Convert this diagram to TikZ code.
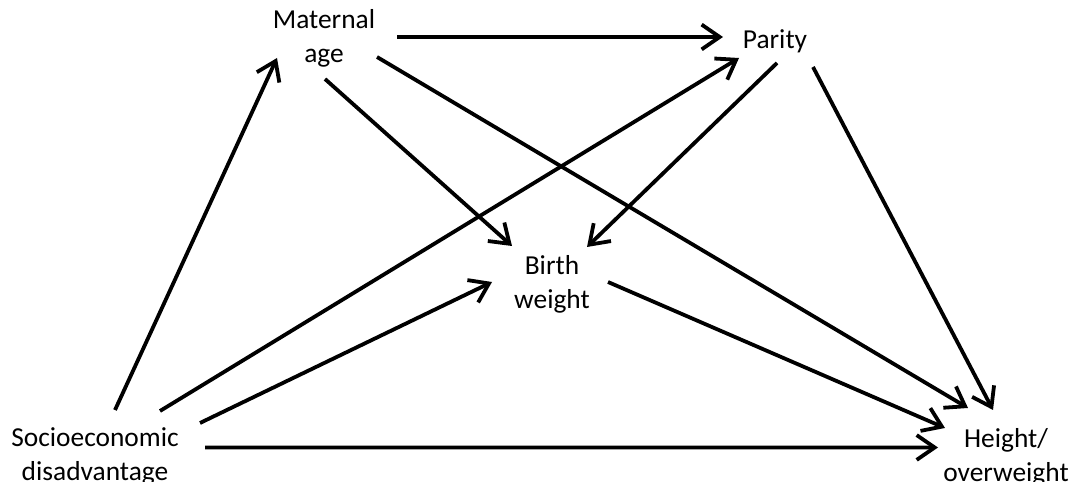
\documentclass[tikz,border=0pt]{standalone}
\usepackage{fontspec}
\setmainfont{Carlito}
\usetikzlibrary{arrows.meta}

\tikzset{
  lbl/.style={align=center, inner sep=0pt, font=\fontsize{19.5}{24}\selectfont},
  arr/.style={line width=2.7pt, -{Straight Barb[length=4.5mm, width=6.2mm]}}
}

\begin{document}
\begin{tikzpicture}
  \useasboundingbox (0,0) rectangle (27.2,12.05);
  % variables
  \node[lbl] (se)  at (2.375,0.6375)  {Socioeconomic\\disadvantage};
  \node[lbl] (mat) at (8.1,11.0875)   {Maternal\\age};
  \node[lbl] (par) at (19.375,11.025) {Parity};
  \node[lbl] (bw)  at (13.8,4.9375)   {Birth\\weight};
  \node[lbl] (ht)  at (25.15,0.625)   {Height/\\overweight};
  % paths
  \draw[arr] ([shift={(0.5,1.1625)}]se.center)    -- ([shift={(-1.175,-0.4875)}]mat.center);
  \draw[arr] ([shift={(1.625,1.1375)}]se.center)  -- ([shift={(-0.9,-0.425)}]par.center);
  \draw[arr] ([shift={(2.625,0.8375)}]se.center)  -- ([shift={(-1.5,0.0625)}]bw.center);
  \draw[arr] ([shift={(2.75,0.225)}]se.center)    -- ([shift={(-1.7,0.2375)}]ht.center);
  \draw[arr] ([shift={(1.825,0.0375)}]mat.center) -- ([shift={(-1.3,0.1)}]par.center);
  \draw[arr] ([shift={(0.025,-1.0125)}]mat.center) -- ([shift={(-1.0,0.9625)}]bw.center);
  \draw[arr] ([shift={(1.325,-0.4625)}]mat.center) -- ([shift={(-0.95,1.225)}]ht.center);
  \draw[arr] ([shift={(0.05,-0.55)}]par.center)   -- ([shift={(0.875,0.9375)}]bw.center);
  \draw[arr] ([shift={(0.95,-0.65)}]par.center)   -- ([shift={(-0.325,1.175)}]ht.center);
  \draw[arr] ([shift={(1.4,0.0625)}]bw.center)    -- ([shift={(-1.525,0.725)}]ht.center);
\end{tikzpicture}
\end{document}
